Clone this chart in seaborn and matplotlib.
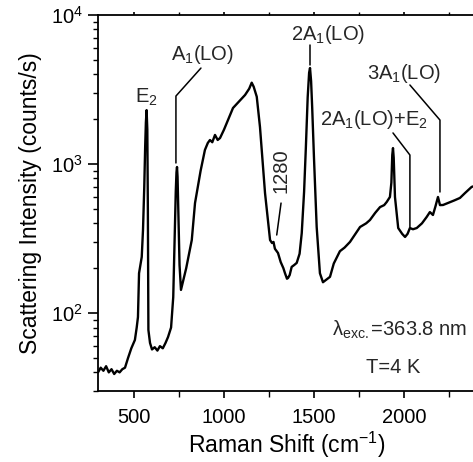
import numpy as np
import pandas as pd
import matplotlib
matplotlib.use('Agg')
import matplotlib.pyplot as plt
import seaborn as sns

# Raman spectrum (shift in cm^-1, intensity in counts/s)
shift = [300, 315, 330, 345, 360, 375, 390, 405, 420, 435, 450, 467, 485, 505,
         515, 522, 528, 543, 550, 557, 562, 566, 570, 574, 577, 580, 589, 600,
         615, 630, 644, 660, 675, 689, 706, 718, 726, 732, 736, 739, 742, 747,
         753, 761, 790, 821, 839, 870, 894, 910, 922, 935, 950, 965, 978, 1000,
         1022, 1050, 1080, 1117, 1140, 1154, 1165, 1182, 1200, 1228, 1256, 1267,
         1275, 1283, 1300, 1315, 1330, 1339, 1350, 1356, 1365, 1376, 1390, 1404,
         1420, 1432, 1445, 1455, 1465, 1473, 1478, 1484, 1490, 1500, 1515, 1533,
         1550, 1570, 1589, 1610, 1644, 1670, 1700, 1730, 1756, 1790, 1811, 1840,
         1867, 1890, 1904, 1922, 1930, 1935, 1939, 1943, 1950, 1968, 1990, 2006,
         2020, 2033, 2050, 2071, 2100, 2126, 2144, 2161, 2175, 2189, 2200, 2217,
         2240, 2256, 2280, 2311, 2340, 2376, 2403]
intensity = [40, 43, 41, 44, 40, 42, 39, 41, 40, 42, 43, 50, 58, 66,
             80, 94, 185, 238, 361, 700, 1300, 1900, 2300, 1700, 500, 77, 63, 57,
             59, 56, 60, 58, 63, 69, 80, 128, 330, 650, 880, 955, 820, 450,
             210, 143, 200, 309, 547, 900, 1242, 1384, 1449, 1400, 1567, 1450, 1494, 1700,
             1972, 2376, 2600, 2905, 3200, 3513, 3300, 2829, 1770, 638, 309, 295,
             300, 270, 253, 220, 200, 185, 170, 172, 180, 204, 210, 217,
             250, 344, 650, 1300, 2800, 4100, 4407, 3600, 2400, 1100, 378, 185,
             161, 168, 175, 215, 260, 275, 300, 340, 378, 400, 421, 470,
             514, 530, 556, 601, 750, 1150, 1279, 1100, 601, 372, 340, 324,
             340, 372, 365, 372, 400, 441, 476, 455, 520, 601, 530, 531,
             545, 555, 570, 592, 640, 702, 720]

spectrum = pd.DataFrame({'shift': shift, 'intensity': intensity})

sns.set_theme(style='ticks')
plt.rcParams['font.family'] = ['Liberation Sans', 'DejaVu Sans']
plt.rcParams['mathtext.fontset'] = 'custom'
plt.rcParams['mathtext.rm'] = 'Liberation Sans'
plt.rcParams['mathtext.it'] = 'Liberation Sans:italic'

fig = plt.figure(figsize=(4.73, 4.62), dpi=100)
ax = fig.add_axes([0.2072, 0.1537, 0.8002, 0.8139])

sns.lineplot(data=spectrum, x='shift', y='intensity', ax=ax, color='black',
             lw=1.7, estimator=None)

ax.set_yscale('log')
ax.set_xlim(300, 2403)
ax.set_ylim(30, 1e4)
ax.set_xticks([500, 1000, 1500, 2000])
ax.set_xticks([750, 1250, 1750, 2250], minor=True)
ax.set_yticks([1e2, 1e3, 1e4])
ax.set_yticklabels([r'$\mathregular{10^2}$', r'$\mathregular{10^3}$', r'$\mathregular{10^4}$'])
ax.yaxis.set_minor_locator(matplotlib.ticker.LogLocator(base=10, subs=np.arange(2, 10)))
ax.yaxis.set_minor_formatter(matplotlib.ticker.NullFormatter())

for s in ax.spines.values():
    s.set_linewidth(1.3)
    s.set_color('black')
ax.tick_params(axis='both', which='major', labelsize=14.5, width=1.2, length=7,
               color='black', labelcolor='black', direction='out', pad=4)
ax.tick_params(axis='both', which='minor', width=1.0, length=3.5, color='black',
               direction='out')
ax.tick_params(axis='x', which='major', length=5, pad=7)
ax.tick_params(axis='x', which='minor', length=4)
ax.tick_params(axis='x', top=True, which='both')
ax.xaxis.set_tick_params(which='both', top=True)
for t in ax.xaxis.get_major_ticks() + ax.xaxis.get_minor_ticks():
    t.tick2line.set_markersize(2)

ax.set_xlabel(r'Raman Shift (cm$^{\mathregular{-1}}$)', fontsize=16.5, labelpad=2,
              color='black')
ax.set_ylabel('Scattering Intensity (counts/s)', fontsize=16.5, labelpad=6,
              color='black')

fs = 14.5
lk = dict(color='black', lw=1.1)
# peak labels with leader lines
ax.text(567, 2567, r'$\mathregular{E_2}$', ha='center', va='baseline', fontsize=fs)
ax.text(883, 4990, r'$\mathregular{A_1(LO)}$', ha='center', va='baseline', fontsize=fs)
ax.plot([872, 733, 733], [4403, 2858, 1016], **lk)
ax.text(1578, 6795, r'$\mathregular{2A_1(LO)}$', ha='center', va='baseline', fontsize=fs)
ax.plot([1478, 1478], [6295, 4616], **lk)
ax.text(1317, 898, '1280', ha='center', va='center', rotation=90, fontsize=fs)
ax.plot([1317, 1293], [547, 334], **lk)
ax.text(2000, 3719, r'$\mathregular{3A_1(LO)}$', ha='center', va='baseline', fontsize=fs)
ax.plot([2033, 2200, 2200], [3390, 1972, 649], **lk)
ax.text(1833, 1827, r'$\mathregular{2A_1(LO){+}E_2}$', ha='center', va='baseline', fontsize=fs)
ax.plot([1939, 2033, 2033], [1616, 1149, 378], **lk)

ax.text(2350, 70, r'λ$_{\mathregular{exc.}}$=363.8 nm', ha='right', va='baseline',
        fontsize=fs)
ax.text(1939, 39.5, 'T=4 K', ha='center', va='baseline', fontsize=fs)

fig.savefig('out.png', dpi=100)
